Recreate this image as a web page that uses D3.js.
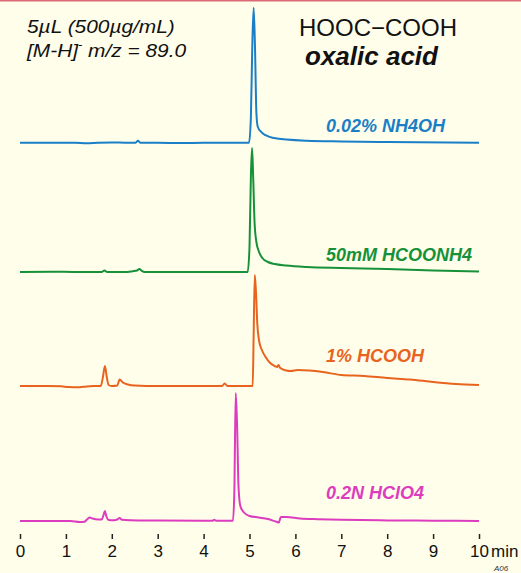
<!DOCTYPE html>
<html>
<head>
<meta charset="utf-8">
<script src="https://cdn.jsdelivr.net/npm/d3@7"></script>
<style>
  html, body { margin: 0; padding: 0; background: #fffeeb; }
  svg { display: block; }
  text { font-family: "Liberation Sans", Arial, sans-serif; }
</style>
</head>
<body>
<svg id="chart" width="521" height="573"></svg>
<script>
// ---- data (time in min, relative signal) ----
const tickValues = [0, 1, 2, 3, 4, 5, 6, 7, 8, 9, 10];
const axisUnit = "min";

const seriesNames = ["0.02% NH4OH", "50mM HCOONH4", "1% HCOOH", "0.2N HClO4"];
const seriesColors = ["#1a7fc6", "#16913a", "#e8641e", "#dc3cbe"];

const nh4ohTrace = [[0,0],[0.6,0],[1.2,0],[1.45,-0.6],[1.7,0],[2.0,0.3],[2.3,0],[2.52,0],[2.57,2],[2.62,0],[3.0,0],[3.5,-0.4],[4.0,0],[4.99,0],[5.03,25],[5.06,95],[5.09,135],[5.12,95],[5.15,30],[5.18,16],[5.25,11],[5.35,7.5],[5.5,5],[6.25,2],[7,1.2],[8,0.6],[10,0]];
const hcoonh4Trace = [[0,0],[0.7,0.3],[1.2,0],[1.78,0],[1.84,1.5],[1.9,0],[2.35,0],[2.45,0.8],[2.55,1.5],[2.6,3],[2.66,0.8],[2.72,0],[4.96,0],[5.0,25],[5.03,95],[5.055,124],[5.08,95],[5.11,50],[5.15,30],[5.2,21],[5.28,14],[5.4,10],[5.55,8],[5.8,6.5],[6.25,5],[7,4],[8,3],[9,1.5],[10,0.5]];
const hcoohTrace = [[0,0],[0.6,0],[0.9,-0.3],[1.05,-1],[1.3,-1.2],[1.45,-0.4],[1.6,0],[1.76,0],[1.81,10],[1.85,20],[1.89,9],[1.93,1],[2.0,0],[2.12,0.5],[2.17,6.5],[2.24,3.5],[2.35,1.5],[2.5,0.5],[3.0,0],[4.4,0],[4.46,2.5],[4.52,0],[5.07,0],[5.09,50],[5.115,111],[5.14,95],[5.17,62],[5.21,45],[5.27,36],[5.35,29],[5.45,23],[5.55,20],[5.6,19],[5.63,21],[5.67,18],[5.8,15.5],[5.9,15],[6.05,16],[6.3,15.5],[6.6,14],[7,11],[7.5,10],[8,8],[8.5,6.5],[9,4],[9.5,2],[10,1]];
const hclo4Trace = [[0,0],[1.1,0],[1.3,-1],[1.4,-0.8],[1.47,2],[1.52,3.5],[1.58,2.5],[1.7,1.5],[1.78,1.5],[1.82,6],[1.85,10],[1.88,5],[1.93,1],[2.05,0.8],[2.12,1.5],[2.17,3],[2.22,1.2],[2.4,0.8],[3.0,0.5],[4.0,0.3],[4.2,0.3],[4.23,1.3],[4.27,0.2],[4.64,0.3],[4.67,30],[4.7,128],[4.73,95],[4.76,35],[4.8,15],[4.87,9],[5.0,5],[5.2,3.5],[5.4,2],[5.6,-1],[5.64,-1.5],[5.68,4],[5.8,4],[6.1,2.5],[6.5,1.8],[7,1.2],[8,0.6],[9,0.3],[10,0]];

const traces = [nh4ohTrace, hcoonh4Trace, hcoohTrace, hclo4Trace];

// ---- layout ----
const W = 521, H = 573;
const baselines = [142.7, 272, 386, 521];
const labelBaselines = [132, 261, 362, 499];
const svg = d3.select("#chart");

svg.append("rect").attr("x", 0).attr("y", 0).attr("width", W).attr("height", H).attr("fill", "#fffeeb");
svg.append("rect").attr("x", 0).attr("y", 0).attr("width", W).attr("height", 1.5).attr("fill", "#dc6878");

const x = d3.scaleLinear().domain([0, 10]).range([20, 479]);

traces.forEach((tr, i) => {
  const y = d3.scaleLinear().domain([0, 140]).range([baselines[i], baselines[i] - 140]);
  const line = d3.line().x(d => x(d[0])).y(d => y(d[1])).curve(d3.curveMonotoneX);
  svg.append("path")
    .datum(tr)
    .attr("d", line)
    .attr("fill", "none")
    .attr("stroke", seriesColors[i])
    .attr("stroke-width", 2)
    .attr("stroke-linejoin", "round");
  svg.append("text")
    .attr("x", 326).attr("y", labelBaselines[i])
    .attr("fill", seriesColors[i])
    .attr("font-size", 18).attr("font-weight", "bold").attr("font-style", "italic")
    .text(seriesNames[i]);
});

// axis
const axis = d3.axisBottom(x).tickValues(tickValues).tickSize(5).tickPadding(6).tickFormat(d3.format("d"));
const g = svg.append("g").attr("transform", "translate(0,534)").call(axis);
g.select(".domain").remove();
g.selectAll(".tick line").attr("stroke", "#222").attr("stroke-width", 1.5);
g.selectAll(".tick text").attr("font-size", 17).attr("fill", "#111").attr("font-family", "Liberation Sans, Arial, sans-serif");
svg.append("text").attr("x", 491).attr("y", 557).attr("font-size", 17).attr("fill", "#111").text(axisUnit);
svg.append("text").attr("x", 494).attr("y", 571).attr("font-size", 8).attr("font-style", "italic").attr("fill", "#333").text("A06");

// annotations
const note = svg.append("g").attr("transform", "translate(27,0) scale(1.16,1)");
note.append("text").attr("x", 0).attr("y", 33).attr("font-size", 18).attr("font-style", "italic").attr("fill", "#111")
  .text("5µL (500µg/mL)");
const t2 = note.append("text").attr("x", 0).attr("y", 57).attr("font-size", 18).attr("font-style", "italic").attr("fill", "#111");
t2.append("tspan").text("[M-H]");
t2.append("tspan").attr("dy", -9).attr("font-size", 11).text("-");
t2.append("tspan").attr("dy", 9).text(" m/z = 89.0");

svg.append("text").attr("x", 299).attr("y", 36).attr("font-size", 24).attr("fill", "#111").text("HOOC−COOH");
svg.append("text").attr("x", 305).attr("y", 65).attr("font-size", 26).attr("font-weight", "bold").attr("font-style", "italic").attr("fill", "#111").text("oxalic acid");
</script>
</body>
</html>
